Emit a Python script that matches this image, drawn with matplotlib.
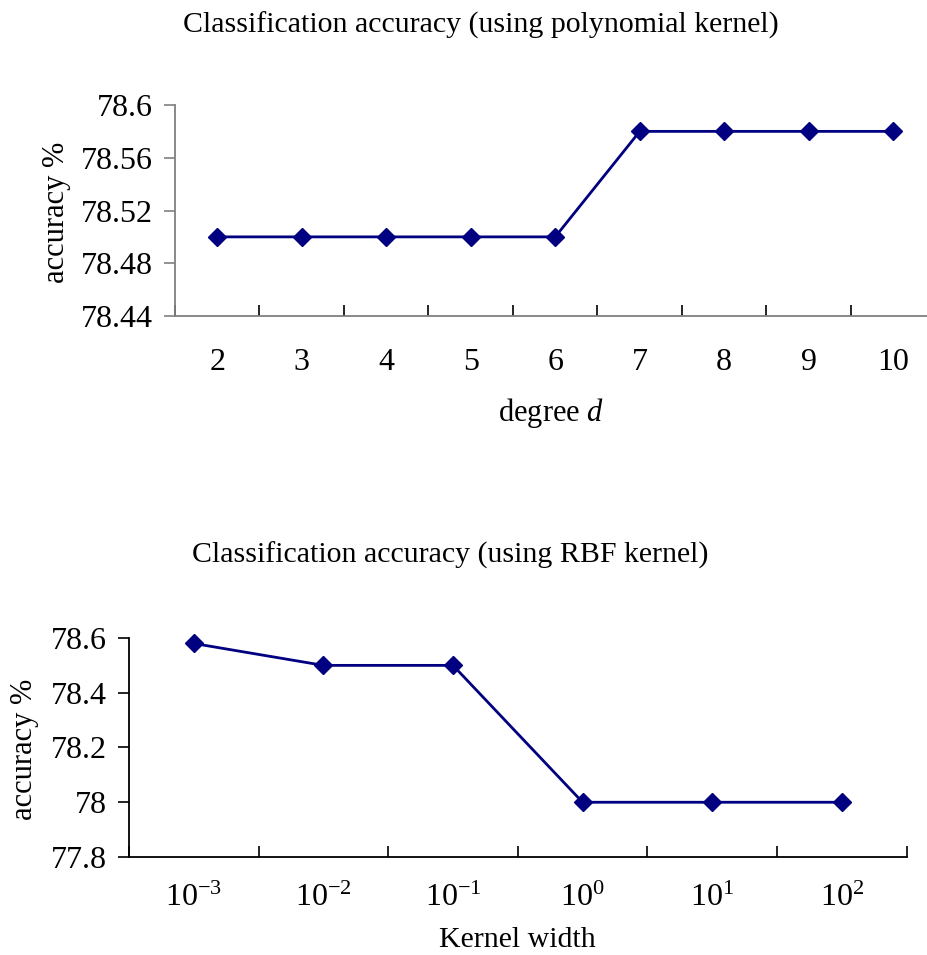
import numpy as np
import matplotlib
matplotlib.use("Agg")
import matplotlib.pyplot as plt

plt.rcParams['font.family'] = ['Liberation Serif', 'DejaVu Serif']
plt.rcParams['mathtext.fontset'] = 'custom'
plt.rcParams['mathtext.rm'] = 'Liberation Serif'
plt.rcParams['mathtext.it'] = 'Liberation Serif:italic'

# polynomial kernel
degrees = ['2', '3', '4', '5', '6', '7', '8', '9', '10']
poly_acc = [78.50, 78.50, 78.50, 78.50, 78.50, 78.58, 78.58, 78.58, 78.58]
poly_yticks = [78.44, 78.48, 78.52, 78.56, 78.6]

# RBF kernel
widths = [r'$10^{-3}$', r'$10^{-2}$', r'$10^{-1}$', r'$10^{0}$', r'$10^{1}$', r'$10^{2}$']
rbf_acc = [78.58, 78.50, 78.50, 78.00, 78.00, 78.00]
rbf_yticks = [77.8, 78.0, 78.2, 78.4, 78.6]

W, H = 928, 955
fig = plt.figure(figsize=(W / 100, H / 100), dpi=100)

line_col = '#000080'


def excel_axis(ax, labels, yvals, yticks, ylabels, spine_col, xpad):
    n = len(labels)
    x = np.arange(n)
    ax.plot(x, yvals, color=line_col, lw=2, marker='D', ms=9, clip_on=False)
    ax.set_xlim(-0.5, n - 0.5)
    ax.set_ylim(yticks[0], yticks[-1])
    for s in ['top', 'right']:
        ax.spines[s].set_visible(False)
    for s in ['left', 'bottom']:
        ax.spines[s].set_color(spine_col)
        ax.spines[s].set_linewidth(1.3)
    ax.set_xticks(x)
    ax.set_xticklabels(labels, fontsize=23)
    ax.tick_params(axis='x', which='major', length=0, pad=xpad)
    ax.set_xticks(np.arange(-0.5, n - 0.4, 1.0), minor=True)
    ax.tick_params(axis='x', which='minor', direction='in', length=8, width=1.2, color='black')
    ax.set_yticks(yticks)
    ax.set_yticklabels(ylabels, fontsize=23)
    ax.tick_params(axis='y', direction='out', length=8, width=1.2, color=spine_col, pad=8)


# top chart
ax1 = fig.add_axes([175 / W, 1 - 316 / H, 9 * 84.5 / W, (316 - 105) / H])
excel_axis(ax1, degrees, poly_acc, poly_yticks,
           ['78.44', '78.48', '78.52', '78.56', '78.6'], '#808080', 23)

# bottom chart
ax2 = fig.add_axes([129 / W, 1 - 857 / H, 6 * 129.6 / W, (857 - 638) / H])
excel_axis(ax2, widths, rbf_acc, rbf_yticks,
           ['77.8', '78', '78.2', '78.4', '78.6'], 'black', 19)

fig.text(481 / W, 1 - 25 / H, 'Classification accuracy (using polynomial kernel)',
         ha='center', va='center', fontsize=21.5)
fig.text(551 / W, 1 - 413 / H, r'degree $d$', ha='center', va='center', fontsize=22)
fig.text(57 / W, 1 - 212 / H, 'accuracy %', ha='center', va='center',
         rotation=90, fontsize=22)

fig.text(450 / W, 1 - 555 / H, 'Classification accuracy (using RBF kernel)',
         ha='center', va='center', fontsize=21.5)
fig.text(517 / W, 1 - 940 / H, 'Kernel width', ha='center', va='center', fontsize=21.5)
fig.text(25 / W, 1 - 749 / H, 'accuracy %', ha='center', va='center',
         rotation=90, fontsize=22)

fig.savefig('out.png', dpi=100)
